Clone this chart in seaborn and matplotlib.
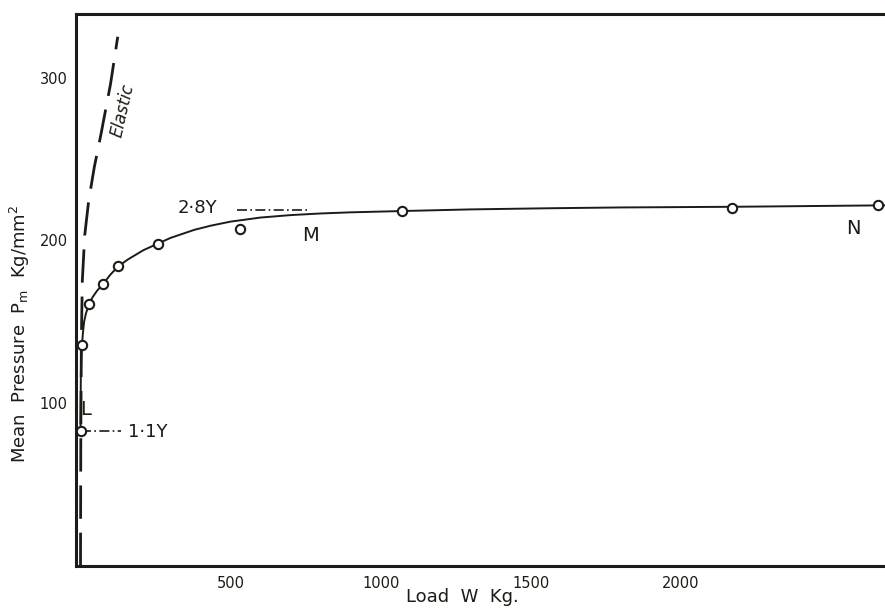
import numpy as np
import pandas as pd
import matplotlib
matplotlib.use("Agg")
import matplotlib.pyplot as plt
import seaborn as sns

# measured points (load W in kg, mean pressure Pm in kg/mm^2)
load_pts = [0, 5, 29, 74, 125, 258, 531, 1072, 2170, 2656]
pressure_pts = [83, 136, 161, 173, 184, 198, 207, 218, 220, 221.5]

# smooth curve drawn through the points
curve_load = [0, 0.5, 1, 2, 3, 5, 8, 12, 18, 24, 29, 40, 55, 74, 100, 125, 160,
              210, 258, 300, 380, 434, 500, 600, 700, 800, 900, 1072, 1300, 1560,
              1800, 2170, 2400, 2680]
curve_pressure = [83, 100, 115, 125, 130, 136, 143, 150, 155, 158.5, 161, 165, 169,
                  173, 179, 184, 188.5, 194, 198, 201.5, 206.5, 209, 211.5, 214,
                  215.5, 216.5, 217.2, 218, 219, 219.7, 220.2, 220.6, 221, 221.5]

# elastic (Hertz) curve, dashed
elastic_load = [0, 1, 3, 6, 14, 27, 46, 68, 100, 124]
elastic_pressure = [0, 80, 140, 175, 203, 224, 245, 265, 296, 325]

# yield reference lines
y28_load = [520, 765]
y28_pressure = [218.5, 218.5]
y11_load = [0, 135]
y11_pressure = [83, 83]

x_ticks = [500, 1000, 1500, 2000]
y_ticks = [100, 200, 300]

ink = "#1c1c17"

sns.set_theme(style="white")
plt.rcParams["font.family"] = ["DejaVu Sans"]

fig = plt.figure(figsize=(8.85, 6.15), dpi=100)
ax = fig.add_axes([76 / 885, 1 - 566 / 615, 809 / 885, 552 / 615])

sns.lineplot(x=elastic_load, y=elastic_pressure, sort=False, estimator=None,
             color=ink, lw=2.0, ax=ax)
ax.lines[-1].set_dashes([12, 5])
sns.lineplot(x=curve_load, y=curve_pressure, sort=False, estimator=None,
             color=ink, lw=1.4, ax=ax)
sns.lineplot(x=y28_load, y=y28_pressure, sort=False, estimator=None,
             color=ink, lw=1.2, ax=ax)
ax.lines[-1].set_dashes([6, 2, 1, 2])
sns.lineplot(x=y11_load, y=y11_pressure, sort=False, estimator=None,
             color=ink, lw=1.2, ax=ax)
ax.lines[-1].set_dashes([6, 2, 1, 2])
sns.scatterplot(x=load_pts, y=pressure_pts, s=45, facecolor="white",
                edgecolor=ink, linewidth=1.5, zorder=5, ax=ax)

ax.set_xlim(-15, 2680)
ax.set_ylim(0, 339)
ax.set_xticks(x_ticks)
ax.set_yticks(y_ticks)
ax.tick_params(axis="x", direction="in", length=5, width=1.5, colors=ink,
               labelsize=10.5, pad=7)
ax.tick_params(axis="y", direction="out", length=5, width=1.5, colors=ink,
               labelsize=10.5, pad=1)
for side in ["left", "top", "bottom"]:
    ax.spines[side].set_color(ink)
    ax.spines[side].set_linewidth(2.2)
ax.spines["right"].set_visible(False)

ax.set_xlabel("Load  W  Kg.", fontsize=13, color=ink)
ax.xaxis.set_label_coords(0.478, -0.04)
ax.set_ylabel("Mean  Pressure  P$_\\mathregular{m}$  Kg/mm$^\\mathregular{2}$",
              fontsize=13, color=ink)
ax.yaxis.set_label_coords(-0.054, 0.42)

ax.text(140, 280, "Elastic", rotation=77, style="italic", fontsize=12,
        color=ink, ha="center", va="center")
ax.text(457, 220, "2·8Y", fontsize=13, color=ink, ha="right", va="center")
ax.text(158, 82, "1·1Y", fontsize=13, color=ink, ha="left", va="center")
ax.text(18, 96, "L", fontsize=14, color=ink, ha="center", va="center")
ax.text(767, 203, "M", fontsize=14, color=ink, ha="center", va="center")
ax.text(2573, 207, "N", fontsize=14, color=ink, ha="center", va="center")

fig.savefig("out.png", dpi=100)
